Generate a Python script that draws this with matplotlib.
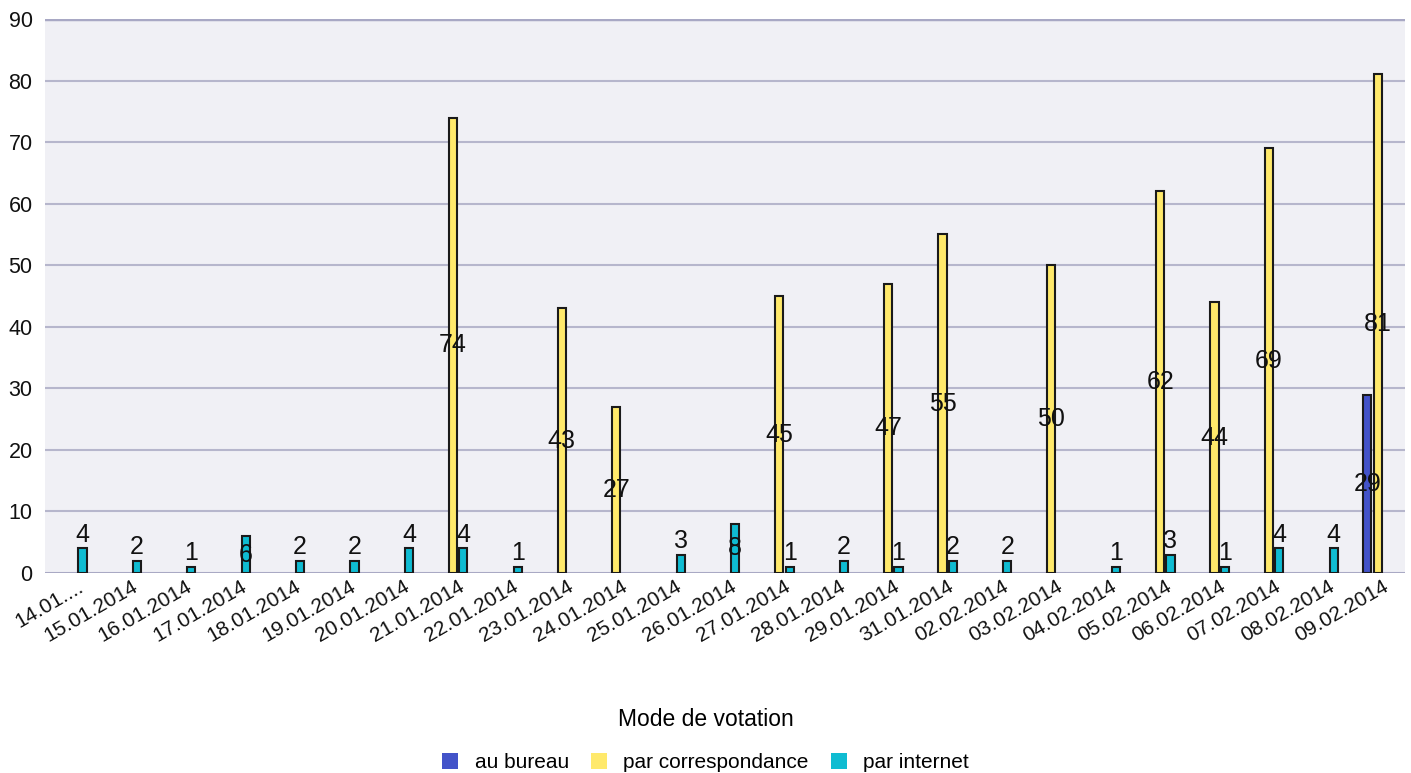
import matplotlib
matplotlib.use("Agg")
import matplotlib.pyplot as plt
import numpy as np
from matplotlib.patches import Patch

plt.rcParams['font.family'] = ['Liberation Sans', 'DejaVu Sans']

dates = ["14.01....", "15.01.2014", "16.01.2014", "17.01.2014", "18.01.2014", "19.01.2014",
         "20.01.2014", "21.01.2014", "22.01.2014", "23.01.2014", "24.01.2014", "25.01.2014",
         "26.01.2014", "27.01.2014", "28.01.2014", "29.01.2014", "31.01.2014", "02.02.2014",
         "03.02.2014", "04.02.2014", "05.02.2014", "06.02.2014", "07.02.2014", "08.02.2014",
         "09.02.2014"]
au_bureau = [0, 0, 0, 0, 0, 0, 0, 0, 0, 0, 0, 0, 0, 0, 0, 0, 0, 0, 0, 0, 0, 0, 0, 0, 29]
par_correspondance = [0, 0, 0, 0, 0, 0, 0, 74, 0, 43, 27, 0, 0, 45, 0, 47, 55, 0, 50, 0, 62, 44, 69, 0, 81]
par_internet = [4, 2, 1, 6, 2, 2, 4, 4, 1, 0, 0, 3, 8, 1, 2, 1, 2, 2, 0, 1, 3, 1, 4, 4, 0]

series = [("au bureau", au_bureau, "#4353c9"),
          ("par correspondance", par_correspondance, "#ffe96b"),
          ("par internet", par_internet, "#0fbcd2")]

fig = plt.figure(figsize=(14.11, 7.73), dpi=100)
ax = fig.add_axes([0.0319, 0.2587, 0.9638, 0.7167])
ax.set_facecolor("#f0f0f5")

x = np.arange(len(dates))
offsets = [-0.19, 0.0, 0.19]
width = 0.15
for (name, vals, col), off in zip(series, offsets):
    vals = np.array(vals, dtype=float)
    mask = vals > 0
    ax.bar(x[mask] + off, vals[mask], width=width, color=col, edgecolor="#1a1a1a",
           linewidth=1.5, zorder=3)
    for xi, v in zip(x[mask] + off, vals[mask]):
        if v >= 5:
            ax.text(xi, v / 2, f"{int(v)}", ha="center", va="center", fontsize=18,
                    color="#111111", zorder=4)
        else:
            ax.annotate(f"{int(v)}", (xi, v), xytext=(0, 1), textcoords="offset points",
                        ha="center", va="bottom", fontsize=18, color="#111111", zorder=4)

ax.set_xlim(-0.5, len(dates) - 0.5)
ax.set_ylim(0, 90)
ax.set_yticks(range(0, 91, 10))
ax.yaxis.grid(True, color="#b6b6cc", linewidth=1.5, zorder=0)
ax.set_axisbelow(True)
for s in ["left", "right", "bottom", "top"]:
    ax.spines[s].set_visible(False)
ax.axhline(90, color="#a8a8c4", linewidth=2.5, zorder=1)
ax.axhline(0, color="#a8a8c4", linewidth=2, zorder=1)
ax.tick_params(axis="y", length=0, labelsize=15.5, pad=9, colors="#111111")
ax.tick_params(axis="x", length=0, labelsize=15, pad=3, colors="#111111")
ax.set_xticks(x + 0.09)
ax.set_xticklabels(dates, rotation=30, ha="right", rotation_mode="anchor")

handles = [Patch(facecolor=c, edgecolor="none", label=n) for n, _, c in series]
leg = fig.legend(handles=handles, loc="lower center", bbox_to_anchor=(0.5, -0.018), ncol=3,
                 frameon=False, fontsize=15, title="Mode de votation", title_fontsize=16.5,
                 handlelength=0.77, handleheight=0.77, handletextpad=0.8, columnspacing=1.05,
                 borderaxespad=0.3)
leg._legend_box.sep = 16

fig.savefig("out.png", dpi=100)
